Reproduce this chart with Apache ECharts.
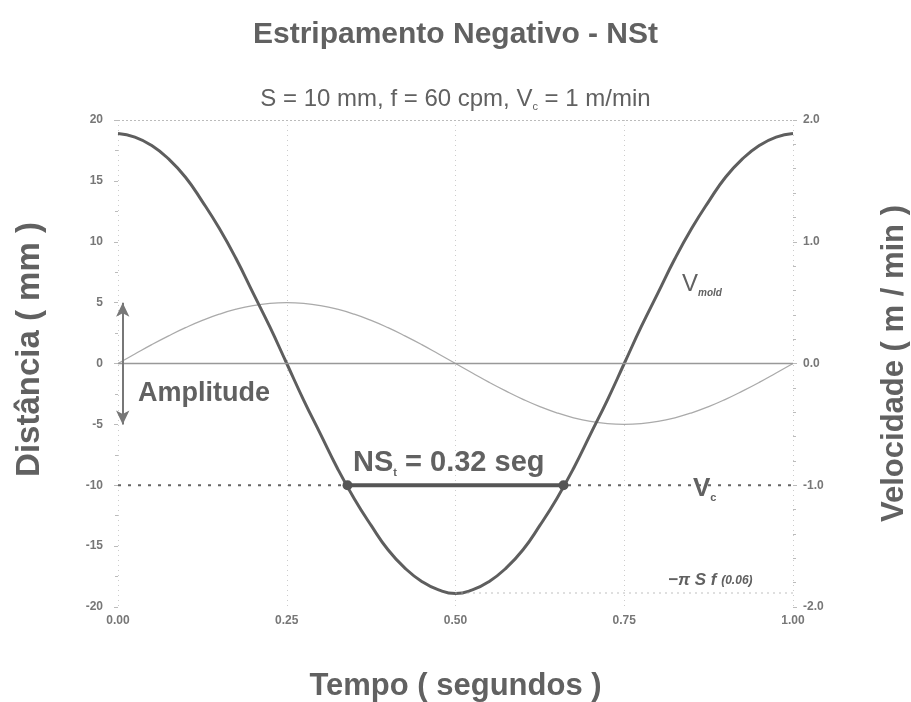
<!DOCTYPE html>
<html>
<head>
<meta charset="utf-8">
<script src="https://cdn.jsdelivr.net/npm/echarts@6/dist/echarts.min.js"></script>
<style>
  html, body { margin: 0; padding: 0; background: #fff; }
  #chart { width: 911px; height: 702px; }
</style>
</head>
<body>
<div id="chart"></div>
<script>
// tempo (s)
var tempo = [0, 0.025, 0.05, 0.075, 0.10, 0.125, 0.15, 0.175, 0.20, 0.225, 0.25,
             0.275, 0.30, 0.325, 0.35, 0.375, 0.40, 0.425, 0.45, 0.475, 0.50,
             0.525, 0.55, 0.575, 0.60, 0.625, 0.65, 0.675, 0.70, 0.725, 0.75,
             0.775, 0.80, 0.825, 0.85, 0.875, 0.90, 0.925, 0.95, 0.975, 1.00];
// posicao do molde (mm)
var distancia = [0, 0.78, 1.55, 2.27, 2.94, 3.54, 4.05, 4.46, 4.76, 4.94, 5.0,
                 4.94, 4.76, 4.46, 4.05, 3.54, 2.94, 2.27, 1.55, 0.78, 0,
                 -0.78, -1.55, -2.27, -2.94, -3.54, -4.05, -4.46, -4.76, -4.94, -5.0,
                 -4.94, -4.76, -4.46, -4.05, -3.54, -2.94, -2.27, -1.55, -0.78, 0];
// velocidade do molde (m/min)
var vMold = [1.89, 1.86, 1.79, 1.68, 1.53, 1.33, 1.11, 0.86, 0.58, 0.30, 0,
             -0.30, -0.58, -0.86, -1.11, -1.33, -1.53, -1.68, -1.79, -1.86, -1.89,
             -1.86, -1.79, -1.68, -1.53, -1.33, -1.11, -0.86, -0.58, -0.30, 0,
             0.30, 0.58, 0.86, 1.11, 1.33, 1.53, 1.68, 1.79, 1.86, 1.89];
var vc = -1.0;                       // velocidade de lingotamento
var nsInicio = 0.34, nsFim = 0.66;   // tempo de estripamento negativo
var piSf = -1.885;                   // -pi S f
var amplitude = [5, -5];
var xTicks = ['0.00', '0.25', '0.50', '0.75', '1.00'];

var txt = '#616161';
var font = 'Liberation Sans';

var posData = [], velData = [];
for (var i = 0; i < tempo.length; i++) {
  posData.push([tempo[i], distancia[i]]);
  velData.push([tempo[i], vMold[i]]);
}

var myChart = echarts.init(document.getElementById('chart'));
var option = {
  animation: false,
  backgroundColor: '#fff',
  title: [{
    text: 'Estripamento Negativo - NSt',
    left: 'center', top: 15,
    textStyle: { fontFamily: font, fontWeight: 'bold', fontSize: 30, color: txt }
  }, {
    text: 'S = 10 mm, f = 60 cpm, V{s|c} = 1 m/min',
    left: 'center', top: 82,
    textStyle: {
      fontFamily: font, fontWeight: 'normal', fontSize: 24, color: txt,
      rich: { s: { fontFamily: font, fontWeight: 'normal', fontSize: 11, color: txt, verticalAlign: 'bottom', padding: [14, 0, 0, 0] } }
    }
  }],
  grid: { left: 118, right: 118, top: 120, bottom: 95, outerBoundsMode: 'none' },
  xAxis: {
    type: 'value', min: 0, max: 1, interval: 0.25,
    name: 'Tempo ( segundos )', nameLocation: 'middle', nameGap: 64,
    nameTextStyle: { fontFamily: font, fontWeight: 'bold', fontSize: 31, color: txt },
    axisLine: { show: true, lineStyle: { color: '#aaa', type: [2, 2], width: 1 } },
    axisTick: { show: false },
    axisLabel: {
      margin: 8, fontFamily: font, fontSize: 12, fontWeight: 'bold', color: '#777',
      formatter: function (v) { return xTicks[Math.round(v / 0.25)]; }
    },
    splitLine: { show: true, lineStyle: { color: '#ccc', type: [1, 4], width: 1 } }
  },
  yAxis: [{
    type: 'value', min: -20, max: 20, interval: 5,
    name: 'Distância ( mm )', nameLocation: 'middle', nameGap: 72,
    nameTextStyle: { fontFamily: font, fontWeight: 'bold', fontSize: 33, color: txt, padding: [0, 0, 0, 28] },
    axisLine: { show: false },
    axisTick: { show: true, length: 4, lineStyle: { color: '#bbb' } },
    minorTick: { show: true, splitNumber: 2, length: 3, lineStyle: { color: '#bbb' } },
    axisLabel: { margin: 15, fontFamily: font, fontSize: 12, fontWeight: 'bold', color: '#777' },
    splitLine: { show: false }
  }, {
    type: 'value', min: -2, max: 2, interval: 1,
    name: 'Velocidade ( m / min )', nameLocation: 'middle', nameGap: 86,
    nameRotate: 90,
    nameTextStyle: { fontFamily: font, fontWeight: 'bold', fontSize: 31, color: txt },
    axisLine: { show: false },
    axisTick: { show: true, length: 4, lineStyle: { color: '#bbb' } },
    minorTick: { show: true, splitNumber: 5, length: 3, lineStyle: { color: '#bbb' } },
    axisLabel: {
      margin: 10, fontFamily: font, fontSize: 12, fontWeight: 'bold', color: '#777',
      formatter: function (v) { return v.toFixed(1); }
    },
    splitLine: { show: false }
  }],
  series: [{
    name: 'Distância',
    type: 'line', yAxisIndex: 0, smooth: true, symbol: 'none',
    data: posData,
    lineStyle: { color: '#aaa', width: 1.3 },
    markLine: {
      silent: true, symbol: 'none', label: { show: false },
      data: [
        { yAxis: 0, lineStyle: { color: '#999', type: 'solid', width: 1.3 } },
        { yAxis: 20, lineStyle: { color: '#bbb', type: [2, 2], width: 1 } },
        [{ coord: [0.007, amplitude[0]], symbol: 'arrow' },
         { coord: [0.007, amplitude[1]], symbol: 'arrow' }]
      ],
      symbolSize: [10, 14],
      lineStyle: { color: '#777', type: 'solid', width: 2 }
    }
  }, {
    name: 'Vmold',
    type: 'line', yAxisIndex: 1, smooth: true, symbol: 'none',
    data: velData,
    lineStyle: { color: '#5e5e5e', width: 3 }
  }, {
    name: 'Vc',
    type: 'line', yAxisIndex: 1, symbol: 'none',
    data: [[0, vc], [1, vc]],
    lineStyle: { color: '#666', width: 2, type: [3, 7] }
  }, {
    name: 'NSt',
    type: 'line', yAxisIndex: 1, symbol: 'circle', symbolSize: 10,
    data: [[nsInicio, vc], [nsFim, vc]],
    itemStyle: { color: '#555' },
    lineStyle: { color: '#555', width: 4 }
  }, {
    name: 'piSf',
    type: 'line', yAxisIndex: 1, symbol: 'none',
    data: [[0.5, piSf], [1, piSf]],
    lineStyle: { color: '#aaa', width: 1.5, type: [1, 5] }
  }],
  graphic: [{
    type: 'text', left: 138, top: 380,
    style: { text: 'Amplitude', font: 'bold 27px "Liberation Sans"', fill: txt }
  }, {
    type: 'text', left: 682, top: 272,
    style: {
      text: 'V{s|mold}', font: '24px "Liberation Sans"', fill: txt,
      rich: { s: { font: 'italic bold 10px "Liberation Sans"', fill: txt, padding: [18, 0, 0, 0] } }
    }
  }, {
    type: 'text', left: 693, top: 476,
    style: {
      text: 'V{s|c}', font: 'bold 26px "Liberation Sans"', fill: txt,
      rich: { s: { font: 'bold 11px "Liberation Sans"', fill: txt, padding: [18, 0, 0, 0] } }
    }
  }, {
    type: 'text', left: 353, top: 448,
    style: {
      text: 'NS{s|t} = 0.32 seg', font: 'bold 29px "Liberation Sans"', fill: txt,
      rich: { s: { font: 'bold 11px "Liberation Sans"', fill: txt, padding: [20, 0, 0, 0] } }
    }
  }, {
    type: 'text', left: 668, top: 572,
    style: {
      text: '\u2212\u03c0 S f {s|(0.06)}', font: 'italic bold 17px "Liberation Sans"', fill: txt,
      rich: { s: { font: 'italic bold 12px "Liberation Sans"', fill: txt } }
    }
  }]
};
myChart.setOption(option);
</script>
</body>
</html>
